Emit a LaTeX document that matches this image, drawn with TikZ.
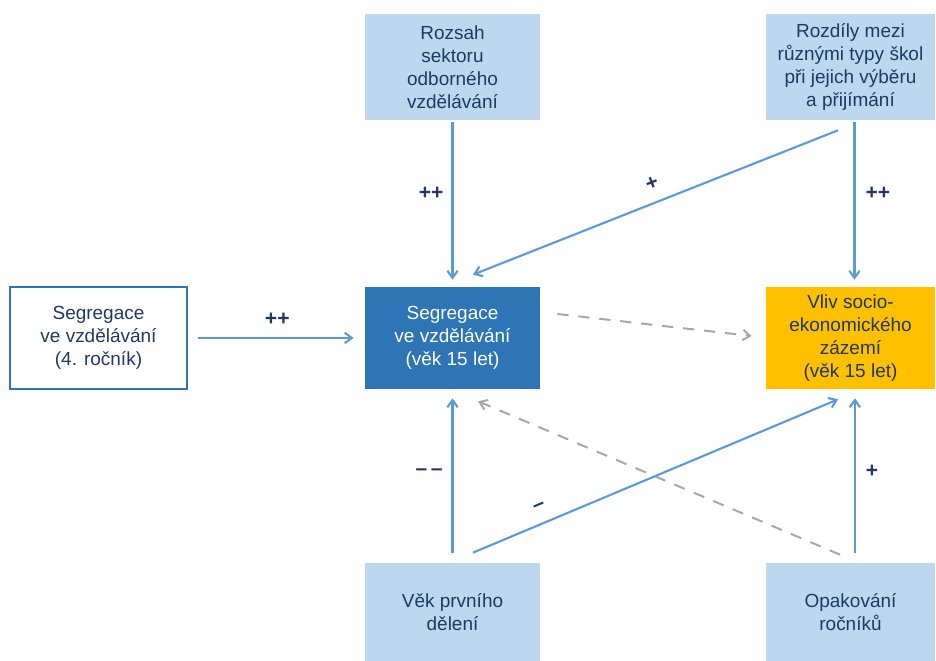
\documentclass[tikz,border=0pt]{standalone}
\usepackage{fontspec}
\setmainfont{Liberation Sans}
\usetikzlibrary{arrows.meta, positioning, calc}
\definecolor{boxlight}{HTML}{BDD7EE}
\definecolor{boxdark}{HTML}{2E75B6}
\definecolor{boxgold}{HTML}{FFC000}
\definecolor{arrowblue}{HTML}{5B9BD5}
\definecolor{navytext}{HTML}{1F3864}
\definecolor{dashgray}{HTML}{A6A6A6}

\begin{document}
\begin{tikzpicture}[x=0.025cm, y=-0.025cm,
    factor/.style={fill=boxlight, text=navytext, align=center, inner sep=0pt,
      font=\fontsize{13.5pt}{16.4pt}\selectfont, minimum width=4.375cm},
    outcome/.style={align=center, inner sep=0pt,
      font=\fontsize{13.5pt}{16.4pt}\selectfont, minimum height=2.55cm},
    effect/.style={line width=1.5pt, arrowblue,
      -{Straight Barb[length=1.8mm, width=2.6mm]}},
    weak/.style={line width=1.4pt, dashgray, dash pattern=on 8pt off 7pt,
      -{Straight Barb[length=1.8mm, width=2.6mm]}},
    sign/.style={text=navytext, inner sep=0pt,
      font=\fontsize{15pt}{15pt}\selectfont\bfseries} ]
    \useasboundingbox (0,0) rectangle (936,661);

    % Top factors
    \node[factor, minimum height=2.65cm] (rozsah) at (452.5,67)
    {Rozsah\\sektoru\\odborného\\vzdělávání};
    \node[factor, minimum height=2.65cm, minimum width=4.225cm] (rozdily) at
    (850.5,67) {Rozdíly mezi\\různými typy škol\\při jejich výběru\\a přijímání};

    % Middle row
    \node[outcome, draw=boxdark, line width=1pt, text=navytext,
      minimum width=4.425cm] (seg4) at (98.5,338)
    {Segregace\\ve vzdělávání\\(4. ročník)};
    \node[outcome, fill=boxdark, text=white, minimum width=4.375cm] (seg15) at
    (452.5,338) {Segregace\\ve vzdělávání\\(věk 15 let)};
    \node[outcome, fill=boxgold, text=navytext, minimum width=4.225cm] (vliv)
    at (850.5,338) {Vliv socio-\\ekonomického\\zázemí\\(věk 15 let)};

    % Bottom factors
    \node[factor, minimum height=2.45cm] (vek) at (452.5,612)
    {Věk prvního\\dělení};
    \node[factor, minimum height=2.45cm, minimum width=4.225cm] (opak) at
    (850.5,612) {Opakování\\ročníků};

    % Arrows from the top
    \draw[effect] ([yshift=-0.05cm]rozsah.south) -- ([yshift=0.175cm]seg15.north)
    node[sign, pos=0.45, left=0.2cm] {++};
    \draw[effect] ([xshift=0.1cm, yshift=-0.05cm]rozdily.south) --
    ([xshift=0.1cm, yshift=0.175cm]vliv.north)
    node[sign, pos=0.45, right=0.25cm] {++};
    \draw[effect] ([xshift=-0.31cm, yshift=-0.25cm]rozdily.south) --
    ([xshift=0.51cm, yshift=0.3cm]seg15.north)
    node[sign, sloped, pos=0.49, above=0.3cm] {+};

    % Earlier segregation
    \draw[effect] ([xshift=0.25cm]seg4.east) -- ([xshift=-0.275cm]seg15.west)
    node[sign, pos=0.51, above=0.28cm] {++};

    % Dashed links
    \draw[weak] ([xshift=0.425cm, yshift=0.6cm]seg15.east) --
    ([xshift=-0.35cm, yshift=0.05cm]vliv.west);
    \draw[weak] ([xshift=-0.26cm, yshift=0.2cm]opak.north) --
    ([xshift=0.64cm, yshift=-0.3cm]seg15.south);

    % Arrows from the bottom
    \draw[effect] ([yshift=0.25cm]vek.north) -- ([yshift=-0.225cm]seg15.south)
    node[sign, pos=0.52, left=0.22cm] {–\,–};
    \draw[effect] ([xshift=0.51cm, yshift=0.25cm]vek.north) --
    ([xshift=-0.31cm, yshift=-0.25cm]vliv.south)
    node[sign, sloped, pos=0.2, above=0.3cm] {–};
    \draw[effect] ([xshift=0.11cm, yshift=0.25cm]opak.north) --
    ([xshift=0.11cm, yshift=-0.225cm]vliv.south)
    node[sign, pos=0.53, right=0.25cm] {+};
\end{tikzpicture}
\end{document}
